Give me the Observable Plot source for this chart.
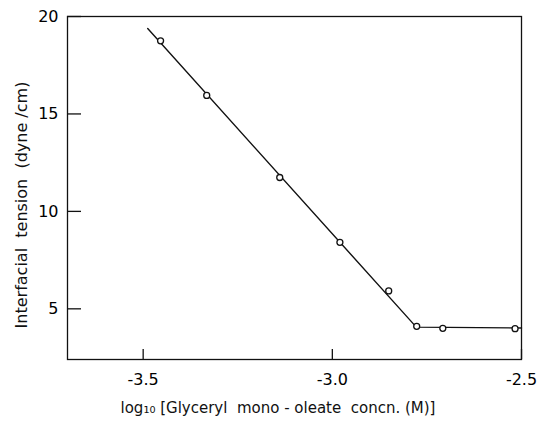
<!DOCTYPE html>
<html>
<head>
<meta charset="utf-8">
<script src="https://cdn.jsdelivr.net/npm/d3@7"></script>
<script src="https://cdn.jsdelivr.net/npm/@observablehq/plot@0.6"></script>
</head>
<body style="margin:0;background:#fff">
<div id="chart"></div>
<script>
// measured points
const logConc = [-3.454, -3.332, -3.139, -2.980, -2.851, -2.777, -2.708, -2.517];
const tension = [18.75, 15.95, 11.74, 8.41, 5.92, 4.10, 4.00, 3.98];
// fitted line (drawn through the data)
const fitX = [-3.488, -2.778, -2.5];
const fitY = [19.38, 4.06, 4.02];
const xTicks = [-3.5, -3.0, -2.5];
const yTicks = [5, 10, 15, 20];

const points = logConc.map((x, i) => ({x, y: tension[i]}));
const fit = fitX.map((x, i) => ({x, y: fitY[i]}));

const font = "DejaVu Sans, Verdana, sans-serif";

const plot = Plot.plot({
  width: 538,
  height: 428,
  marginLeft: 67,
  marginRight: 17,
  marginTop: 16,
  marginBottom: 69,
  x: {domain: [-3.7, -2.5]},
  y: {domain: [2.4, 20]},
  marks: [
    Plot.frame({stroke: "#111", strokeWidth: 1.3}),
    // inward tick marks (axis ticks shifted into the frame)
    Plot.axisX({ticks: xTicks, tickSize: 10, dy: -10, tickFormat: () => "", label: null, stroke: "#111", strokeWidth: 1.3}),
    Plot.axisY({ticks: yTicks, tickSize: 14, dx: 14, tickFormat: () => "", label: null, stroke: "#111", strokeWidth: 1.3}),
    // tick labels
    Plot.axisX({ticks: xTicks, tickFormat: d => d.toFixed(1), tickSize: 0, tickPadding: 14, fontSize: 16, fontFamily: font, label: null}),
    Plot.axisY({ticks: yTicks, tickFormat: d => String(d), tickSize: 0, tickPadding: 9, fontSize: 16, fontFamily: font, label: null}),
    Plot.line(fit, {x: "x", y: "y", stroke: "#111", strokeWidth: 1.4}),
    Plot.dot(points, {x: "x", y: "y", r: 3, stroke: "#111", strokeWidth: 1.3, fill: "white"})
  ]
});

const svg = d3.select(plot);
svg.append("text")
  .attr("x", 278).attr("y", 413)
  .attr("text-anchor", "middle")
  .attr("font-family", font).attr("font-size", 15).attr("fill", "#111")
  .text("log₁₀ [Glyceryl  mono - oleate  concn. (M)]");
svg.append("text")
  .attr("transform", "translate(27,205) rotate(-90)")
  .attr("text-anchor", "middle")
  .attr("font-family", font).attr("font-size", 16).attr("fill", "#111")
  .text("Interfacial  tension  (dyne /cm)");

document.getElementById("chart").appendChild(plot);
</script>
</body>
</html>
